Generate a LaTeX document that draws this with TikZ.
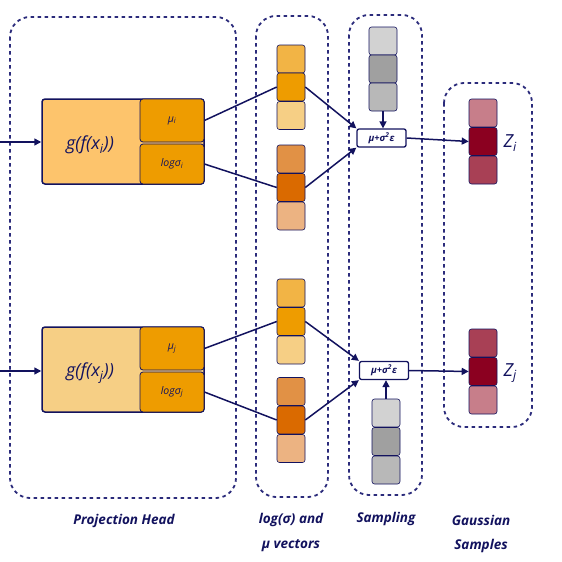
\documentclass[tikz,border=0pt]{standalone}
\usepackage{fontspec}
\setmainfont{Open Sans}
\usetikzlibrary{arrows.meta}
\definecolor{navy}{HTML}{12125E}
\definecolor{dashc}{HTML}{2B2B7B}
\definecolor{lorA}{HTML}{FDC46C}
\definecolor{lorB}{HTML}{F6CF85}
\definecolor{dor}{HTML}{EE9C00}
\definecolor{oA}{HTML}{F2B445}
\definecolor{oB}{HTML}{EE9C00}
\definecolor{oC}{HTML}{F6CF85}
\definecolor{oD}{HTML}{E19145}
\definecolor{oE}{HTML}{DA6A00}
\definecolor{oF}{HTML}{ECB382}
\definecolor{gA}{HTML}{D2D2D2}
\definecolor{gB}{HTML}{A0A0A0}
\definecolor{gC}{HTML}{B8B8B8}
\definecolor{rA}{HTML}{C77E8A}
\definecolor{rB}{HTML}{8B0020}
\definecolor{rC}{HTML}{A84055}
\tikzset{
  grpbox/.style={draw=dashc, line width=1.8pt, dash pattern=on 3.5pt off 3.5pt, rounded corners=20pt},
  cellbox/.style={draw=navy, line width=0.6pt, rounded corners=2.5pt, minimum width=28pt, minimum height=28pt, inner sep=0pt},
  outerbox/.style={draw=navy, line width=1.5pt, rounded corners=3pt, minimum width=162pt, minimum height=85pt, inner sep=0pt},
  subbox/.style={draw=navy, line width=0.8pt, fill=dor, rounded corners=3pt, minimum width=64pt, inner sep=0pt, text=navy, font=\itshape\fontsize{10.5}{12}\selectfont},
  formbox/.style={draw=navy, line width=1.3pt, fill=white, rounded corners=2pt, minimum width=49pt, minimum height=18pt, inner sep=0pt, text=navy, font=\bfseries\itshape\fontsize{9.5}{10}\selectfont},
  conn/.style={draw=navy, line width=1.5pt},
  arr/.style={conn, -{Triangle[length=7pt,width=7pt]}},
  lbl/.style={text=navy, font=\bfseries\itshape\fontsize{13.5}{14}\selectfont},
  bigtxt/.style={text=navy, font=\itshape\fontsize{18}{20}\selectfont},
}
\begin{document}
\begin{tikzpicture}[x=1pt,y=-1pt]
\useasboundingbox (0,0) rectangle (562,562);
% group boxes
\draw[grpbox] (10,17) rectangle (236,498);
\draw[grpbox] (256,16) rectangle (328,497);
\draw[grpbox] (349,15) rectangle (422,495);
\draw[grpbox] (444,83) rectangle (532,427);
% projection heads
\node[outerbox, fill=lorA] (ph1) at (123,141.5) {};
\node[subbox, minimum height=43pt] (mu1) at (172,120.5) {μ\textsubscript{i}};
\node[subbox, minimum height=40pt] (ls1) at (172,164) {logσ\textsubscript{i}};
\node[bigtxt] (g1) at (90,145) {g(f(x\textsubscript{i}))};
\node[outerbox, fill=lorB] (ph2) at (123,369.5) {};
\node[subbox, minimum height=43pt] (mu2) at (172,348.5) {μ\textsubscript{j}};
\node[subbox, minimum height=40pt] (ls2) at (172,392) {logσ\textsubscript{j}};
\node[bigtxt] (g2) at (90,373) {g(f(x\textsubscript{j}))};
\coordinate (in1) at (0,142);
\coordinate (in2) at (0,371);
\draw[arr] (in1) -- (in1 -| ph1.west);
\draw[arr] (in2) -- (in2 -| ph2.west);
% log sigma and mu vectors
\node[cellbox, fill=oA] (a1) at (291,59) {};
\node[cellbox, fill=oB] (a2) at (291,87) {};
\node[cellbox, fill=oC] (a3) at (291,115.5) {};
\node[cellbox, fill=oD] (b1) at (291,159) {};
\node[cellbox, fill=oE] (b2) at (291,187.5) {};
\node[cellbox, fill=oF] (b3) at (291,216) {};
\node[cellbox, fill=oA] (c1) at (291,293) {};
\node[cellbox, fill=oB] (c2) at (291,321.5) {};
\node[cellbox, fill=oC] (c3) at (291,350) {};
\node[cellbox, fill=oD] (d1) at (291,391.5) {};
\node[cellbox, fill=oE] (d2) at (291,420) {};
\node[cellbox, fill=oF] (d3) at (291,448.5) {};
% sampling
\node[cellbox, fill=gA] (s1) at (383,41) {};
\node[cellbox, fill=gB] (s2) at (383,69) {};
\node[cellbox, fill=gC] (s3) at (383,97) {};
\node[formbox] (f1) at (381.5,138) {μ+σ\textsuperscript{2}ε};
\node[cellbox, fill=gA] (t1) at (386,413) {};
\node[cellbox, fill=gB] (t2) at (386,441.5) {};
\node[cellbox, fill=gC] (t3) at (386,470) {};
\node[formbox] (f2) at (384,370.5) {μ+σ\textsuperscript{2}ε};
% gaussian samples
\node[cellbox, fill=rA] (z1) at (483,113) {};
\node[cellbox, fill=rB] (z2) at (483,141.5) {};
\node[cellbox, fill=rC] (z3) at (483,170) {};
\node[cellbox, fill=rC] (w1) at (483,343) {};
\node[cellbox, fill=rB] (w2) at (483,371.5) {};
\node[cellbox, fill=rA] (w3) at (483,400) {};
\node[bigtxt, anchor=west] (zi) at (500,143) {Z\textsubscript{i}};
\node[bigtxt, anchor=west] (zj) at (500,373) {Z\textsubscript{j}};
% connectors
\draw[conn] (mu1.east) -- (a2.west);
\draw[conn] (ls1.east) -- (b2.west);
\draw[arr] (a2.east) -- (f1.north west);
\draw[arr] (b2.east) -- (f1.south west);
\draw[arr] (s3.south) -- (s3.south |- f1.north);
\draw[arr] (f1.east) -- (z2.west);
\draw[conn] (mu2.east) -- (c2.west);
\draw[conn] (ls2.east) -- (d2.west);
\draw[arr] (c2.east) -- (f2.north west);
\draw[arr] (d2.east) -- (f2.south west);
\draw[arr] (t1.north) -- (t1.north |- f2.south);
\draw[arr] (f2.east) -- (w2.west);
% labels
\node[lbl] (l1) at (124,521) {Projection Head};
\node[lbl] (l2) at (291,520) {log(σ) and};
\node[lbl] (l3) at (291,546) {μ vectors};
\node[lbl] (l4) at (386,519) {Sampling};
\node[lbl] (l5) at (481,520) {Gaussian};
\node[lbl] (l6) at (481,546) {Samples};
\end{tikzpicture}
\end{document}
